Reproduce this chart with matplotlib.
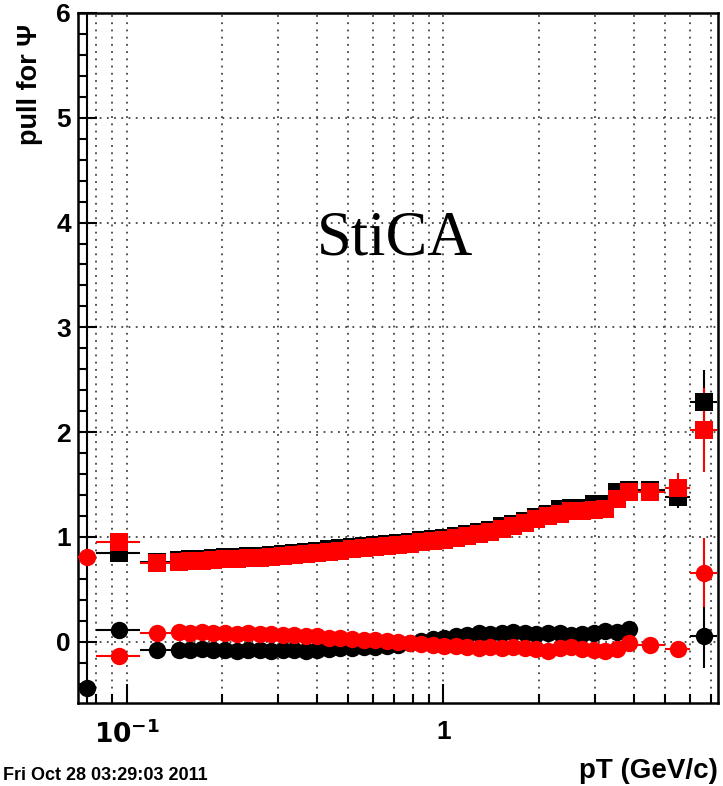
import numpy as np
import matplotlib
matplotlib.use("Agg")
import matplotlib.pyplot as plt
from matplotlib.ticker import LogLocator, FixedLocator, FixedFormatter, MultipleLocator, NullFormatter

# ---------------- data ----------------
bin_edges = [0.07, 0.08, 0.11,
             0.140, 0.152, 0.166, 0.180, 0.196, 0.213, 0.232, 0.252, 0.274, 0.298,
             0.324, 0.353, 0.383, 0.417, 0.453, 0.493, 0.536, 0.583, 0.634, 0.689,
             0.749, 0.815, 0.886, 0.963, 1.05, 1.14, 1.24, 1.35, 1.46, 1.59,
             1.73, 1.88, 2.05, 2.23, 2.42, 2.63, 2.86, 3.11, 3.38, 3.68,
             4.00, 5.0, 6.0, 7.3]

nan = float("nan")

black_sq = [nan, 0.85, 0.76,
            0.78, 0.79, 0.79, 0.80, 0.81, 0.81, 0.82, 0.82, 0.83, 0.84,
            0.85, 0.86, 0.87, 0.88, 0.89, 0.90, 0.91, 0.92, 0.93, 0.94,
            0.95, 0.97, 0.98, 0.99, 1.01, 1.03, 1.05, 1.07, 1.10, 1.12,
            1.15, 1.19, 1.22, 1.27, 1.28, 1.28, 1.31, 1.31, 1.43, 1.45,
            1.45, 1.38, 2.29]
black_sq_err = [0, 0.03, 0.02] + [0.02] * 40 + [0.03, 0.10, 0.30]

red_sq = [nan, 0.955, 0.75,
          0.76, 0.77, 0.77, 0.78, 0.79, 0.79, 0.80, 0.80, 0.81, 0.82,
          0.83, 0.84, 0.85, 0.86, 0.87, 0.88, 0.89, 0.90, 0.91, 0.92,
          0.93, 0.95, 0.96, 0.97, 0.99, 1.01, 1.03, 1.05, 1.08, 1.10,
          1.13, 1.17, 1.20, 1.22, 1.25, 1.25, 1.26, 1.27, 1.36, 1.43,
          1.43, 1.47, 2.02]
red_sq_err = [0, 0.03, 0.02] + [0.02] * 40 + [0.03, 0.14, 0.40]

black_circ = [-0.44, 0.11, -0.08,
              -0.08, -0.08, -0.07, -0.08, -0.08, -0.09, -0.08, -0.08, -0.09, -0.08,
              -0.08, -0.09, -0.08, -0.07, -0.06, -0.06, -0.05, -0.05, -0.04, -0.03,
              -0.01, 0.01, 0.03, 0.04, 0.05, 0.06, 0.08, 0.07, 0.08, 0.09,
              0.08, 0.07, 0.08, 0.08, 0.06, 0.07, 0.08, 0.10, 0.09, 0.12,
              nan, nan, 0.05]
black_circ_err = [10.0, 0.03, 0.02] + [0.02] * 40 + [0.03, 0.05, 0.30]

red_circ = [0.81, -0.14, 0.08,
            0.09, 0.08, 0.09, 0.08, 0.08, 0.07, 0.08, 0.07, 0.07, 0.06,
            0.06, 0.05, 0.05, 0.04, 0.04, 0.03, 0.02, 0.02, 0.01, 0.00,
            -0.01, -0.02, -0.03, -0.04, -0.04, -0.05, -0.06, -0.05, -0.06, -0.05,
            -0.06, -0.07, -0.09, -0.06, -0.05, -0.07, -0.08, -0.09, -0.07, -0.01,
            -0.03, -0.07, 0.66]
red_circ_err = [0.03, 0.03, 0.02] + [0.02] * 40 + [0.03, 0.08, 0.33]

x_tick_values = [0.1, 1.0]
x_tick_labels = [r"$\mathbf{10^{-1}}$", "1"]
y_tick_values = [0, 1, 2, 3, 4, 5, 6]

# ---------------- figure ----------------
W, H = 723, 786
fig = plt.figure(figsize=(W / 100, H / 100), dpi=100)
ax = fig.add_axes([78 / W, (H - 703) / H, 640 / W, 690 / H])

edges = np.array(bin_edges)
lo, hi = edges[:-1], edges[1:]
xc = (lo + hi) / 2.0
xerr = [xc - lo, hi - xc]

common = dict(capsize=0, elinewidth=1.5, markeredgewidth=0, linestyle="none", zorder=3)
ax.errorbar(xc, black_sq, xerr=xerr, yerr=black_sq_err, fmt="s", color="black", ms=13.5, **common)
ax.errorbar(xc, black_circ, xerr=xerr, yerr=black_circ_err, fmt="o", color="black", ms=12.5, **common)
ax.errorbar(xc, red_sq, xerr=xerr, yerr=red_sq_err, fmt="s", color="#ff0000", ms=13.5, **common)
ax.errorbar(xc, red_circ, xerr=xerr, yerr=red_circ_err, fmt="o", color="#ff0000", ms=12.5, **common)

ax.set_xscale("log")
ax.set_xlim(0.0703, 7.35)
ax.set_ylim(-0.585, 6.0)

ax.xaxis.set_major_locator(FixedLocator(x_tick_values))
ax.xaxis.set_major_formatter(FixedFormatter(x_tick_labels))
ax.xaxis.set_minor_locator(LogLocator(base=10, subs=np.arange(2, 10), numticks=20))
ax.xaxis.set_minor_formatter(NullFormatter())
ax.yaxis.set_major_locator(FixedLocator(y_tick_values))
ax.yaxis.set_minor_locator(MultipleLocator(0.2))

ax.tick_params(which="both", direction="in", top=False, right=False, width=1.5, color="black")
ax.tick_params(which="major", length=14)
ax.tick_params(which="minor", length=6.5)
ax.tick_params(axis="y", which="major", pad=5, labelsize=19)
ax.tick_params(axis="x", which="major", pad=12, labelsize=19)
for lab in ax.get_xticklabels() + ax.get_yticklabels():
    lab.set_fontfamily("Liberation Sans")
    lab.set_fontweight("bold")

ax.grid(True, which="both", axis="x", color="#444444", linestyle=(0, (1, 3)), linewidth=1.3, zorder=0)
ax.grid(True, which="major", axis="y", color="#444444", linestyle=(0, (1, 3)), linewidth=1.3, zorder=0)
ax.set_axisbelow(True)

for s in ax.spines.values():
    s.set_linewidth(1.8)

ax.text(0.495, 0.6718, "StiCA", transform=ax.transAxes, ha="center", va="center",
        fontsize=45, family="Liberation Serif", color="black")

fig.text(30 / W, 1 - 84 / H, "pull for \u03a8", rotation=90, ha="center", va="center",
         fontsize=19.5, fontweight="bold", family=["Liberation Sans", "DejaVu Sans"])
fig.text(718 / W, 1 - 771 / H, "pT (GeV/c)", ha="right", va="center",
         fontsize=20, fontweight="bold", family="Liberation Sans")
fig.text(3 / W, 1 - 775 / H, "Fri Oct 28 03:29:03 2011", ha="left", va="center",
         fontsize=13, fontweight="bold", family="Liberation Sans")

fig.savefig("out.png", dpi=100)
